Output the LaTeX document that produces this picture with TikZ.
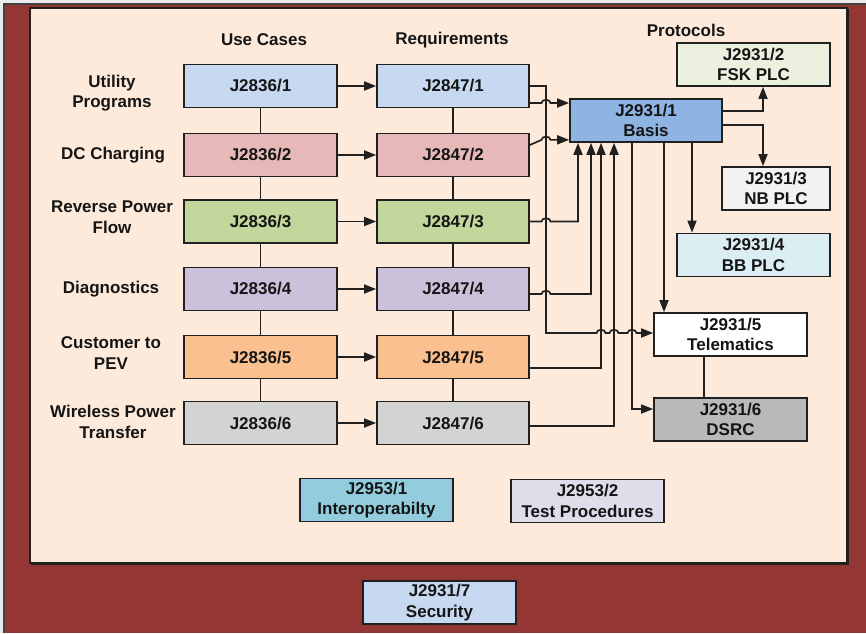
\documentclass[tikz,border=0pt]{standalone}
\usepackage{fontspec}
\setmainfont{Liberation Sans}
\usetikzlibrary{arrows.meta,calc}

\definecolor{frame}{HTML}{943634}
\definecolor{panel}{HTML}{FDEADA}
\definecolor{edge}{HTML}{202020}
\definecolor{ink}{HTML}{151515}
\definecolor{rowA}{HTML}{C6D9F1}
\definecolor{rowB}{HTML}{E6B9B8}
\definecolor{rowC}{HTML}{C3D69B}
\definecolor{rowD}{HTML}{CCC1DA}
\definecolor{rowE}{HTML}{FAC090}
\definecolor{rowF}{HTML}{D3D4D2}
\definecolor{basis}{HTML}{8EB4E3}
\definecolor{fsk}{HTML}{EBF1DE}
\definecolor{nb}{HTML}{F2F2F2}
\definecolor{bb}{HTML}{DBEEF4}
\definecolor{dsrc}{HTML}{B9B9B9}
\definecolor{interop}{HTML}{93CDDD}
\definecolor{testp}{HTML}{E1DCE9}

% small upward bump where a horizontal line jumps over a vertical one
\newcommand\hop[1]{-- ($(#1)+(-4.5,0)$) to[out=90,in=90,looseness=1.2] ($(#1)+(4.5,0)$)}

\begin{document}
\begin{tikzpicture}[x=1pt,y=-1pt,
  txt/.style={font=\fontsize{17}{20.5}\selectfont\bfseries, text=ink, align=center},
  box/.style={txt, draw=edge, line width=1.7pt, minimum width=153pt,
              minimum height=43pt, inner sep=0pt},
  conn/.style={draw=edge, line width=1.7pt},
  arr/.style={conn, -{Triangle[length=12pt,width=9pt]}}]

\useasboundingbox (0,0) rectangle (866,633);

% frame and panel
\fill[black!8] (0,0) rectangle (866,633);
\fill[frame] (4,4) rectangle (866,633);
\draw[edge!85, line width=1.6pt] (4,633) -- (4,4) -- (866,4);
\fill[panel] (30,8) rectangle (847,563);
\draw[edge, line width=1.2pt] (30,8) rectangle (847,563);
\draw[edge, line width=1.6pt] (848,9) -- (848,564) -- (31,564);

% column headings
\node[txt] (hUse) at (264,40) {Use Cases};
\node[txt] (hReq) at (452,40) {Requirements};
\node[txt] (hPro) at (686,30) {Protocols};

% row labels
\node[txt] (l1) at (112,93) {Utility\\Programs};
\node[txt] (l2) at (113,155) {DC Charging};
\node[txt] (l3) at (112,217) {Reverse Power\\Flow};
\node[txt] (l4) at (111,289) {Diagnostics};
\node[txt] (l5) at (111,353) {Customer to\\PEV};
\node[txt] (l6) at (113,422) {Wireless Power\\Transfer};

% use cases
\node[box, fill=rowA] (a1) at (260.5,86)  {J2836/1};
\node[box, fill=rowB] (a2) at (260.5,155) {J2836/2};
\node[box, fill=rowC] (a3) at (260.5,221.5) {J2836/3};
\node[box, fill=rowD] (a4) at (260.5,289) {J2836/4};
\node[box, fill=rowE] (a5) at (260.5,357) {J2836/5};
\node[box, fill=rowF] (a6) at (260.5,423) {J2836/6};

% requirements
\node[box, fill=rowA, minimum width=152pt] (b1) at (453,86)  {J2847/1};
\node[box, fill=rowB, minimum width=152pt] (b2) at (453,155) {J2847/2};
\node[box, fill=rowC, minimum width=152pt] (b3) at (453,221.5) {J2847/3};
\node[box, fill=rowD, minimum width=152pt] (b4) at (453,289) {J2847/4};
\node[box, fill=rowE, minimum width=152pt] (b5) at (453,357) {J2847/5};
\node[box, fill=rowF, minimum width=152pt] (b6) at (453,423) {J2847/6};

% protocols
\node[box, fill=basis, minimum width=152pt] (bs) at (646,120.5) {J2931/1\\Basis};
\node[box, fill=fsk] (fsk) at (753.5,64.5) {J2931/2\\FSK PLC};
\node[box, fill=nb, minimum width=108pt] (nb) at (776,188.5) {J2931/3\\NB PLC};
\node[box, fill=bb] (bb) at (753.5,255) {J2931/4\\BB PLC};
\node[box, fill=white] (tel) at (730.5,334.5) {J2931/5\\Telematics};
\node[box, fill=dsrc] (ds) at (730.5,419.5) {J2931/6\\DSRC};

% testing and security
\node[box, fill=interop] (t1) at (376.5,500) {J2953/1\\Interoperabilty};
\node[box, fill=testp] (t2) at (587.5,501) {J2953/2\\Test Procedures};
\node[box, fill=rowA] (sec) at (439.5,602.5) {J2931/7\\Security};

% column links
\foreach \i [count=\j from 2] in {1,...,5} {
  \draw[conn] (a\i.south) -- (a\j.north);
  \draw[conn] (b\i.south) -- (b\j.north);
}
\foreach \i in {1,...,6}
  \draw[arr] (a\i.east) -- (b\i.west);

% vertical tracks
\coordinate (v1) at (546,0);
\coordinate (v2) at (578,0);
\coordinate (v3) at (591,0);
\coordinate (v4) at (601,0);
\coordinate (v5) at (614,0);
\coordinate (v6) at (632,0);
\coordinate (v7) at (664,0);
\coordinate (v8) at (692,0);
\coordinate (v9) at (763,0);
\coordinate (v10) at (704,0);

% pick-off points
\coordinate (o1) at ($(b1.east)+(0,17)$);
\coordinate (o2) at ($(b2.east)+(0,-10)$);
\coordinate (o2b) at ($(bs.south west)+(0,-3)$);
\coordinate (o4) at ($(b4.east)+(0,5)$);
\coordinate (o5) at ($(b5.east)+(0,11)$);
\coordinate (o6) at ($(b6.east)+(0,3)$);
\coordinate (bo1) at ($(bs.east)+(0,-9.5)$);
\coordinate (bo2) at ($(bs.east)+(0,4.5)$);
\coordinate (din) at ($(ds.west)+(0,-10.5)$);
\coordinate (tin) at ($(tel.west)+(0,-1.5)$);

% requirements into the basis
\draw[arr] (o1) \hop{v1 |- o1} -- (bs.west |- o1);
\draw[arr] (o2) -- ($(v1 |- o2b)+(-4.5,0)$) to[out=90,in=90,looseness=1.2] ($(v1 |- o2b)+(4.5,0)$) -- (o2b);
\draw[arr] (b3.east) \hop{v1 |- b3.east} -- (v2 |- b3.east) -- (v2 |- bs.south);
\draw[arr] (o4) \hop{v1 |- o4} -- (v3 |- o4) -- (v3 |- bs.south);
\draw[arr] (o5) -- (v4 |- o5) -- (v4 |- bs.south);
\draw[arr] (o6) -- (v5 |- o6) -- (v5 |- bs.south);

% utility programs to telematics
\draw[arr] (b1.east) -- (v1 |- b1.east) -- (v1 |- tin)
  \hop{v4 |- tin} \hop{v5 |- tin} \hop{v6 |- tin} -- (tin);

% basis to the physical layers
\draw[arr] (v6 |- bs.south) -- (v6 |- din) -- (din);
\draw[arr] (v7 |- bs.south) -- (v7 |- tel.north);
\draw[arr] (v8 |- bs.south) -- (v8 |- bb.north);
\draw[arr] (bo1) -- (v9 |- bo1) -- (v9 |- fsk.south);
\draw[arr] (bo2) -- (v9 |- bo2) -- (v9 |- nb.north);
\draw[conn] (v10 |- tel.south) -- (v10 |- ds.north);

\end{tikzpicture}
\end{document}
